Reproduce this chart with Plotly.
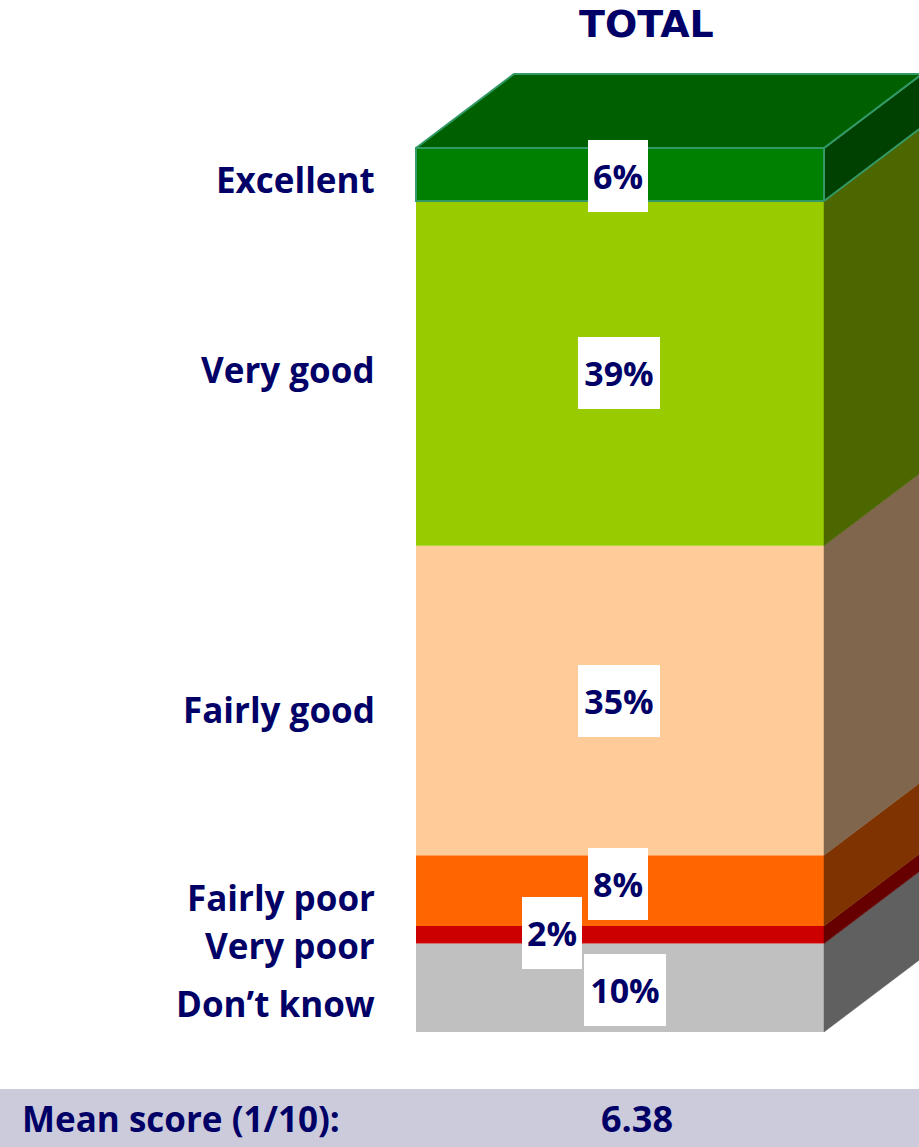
import plotly.graph_objects as go

# ---- data -------------------------------------------------------------
categories = ["Don\u2019t know", "Very poor", "Fairly poor", "Fairly good", "Very good", "Excellent"]
values = [10, 2, 8, 35, 39, 6]
column_title = "TOTAL"
mean_label = "Mean score (1/10):"
mean_score = 6.38

# ---- styling ----------------------------------------------------------
W, H = 919, 1147
NAVY = "#000066"
FONT = "Open Sans"
face_colors = ["#C0C0C0", "#CC0000", "#FF6600", "#FFCC99", "#99CC00", "#008000"]
outline_colors = [None, None, None, None, None, "#339966"]

# category label vertical positions (axis units) and value-box nudges (px)
label_y = [3.2, 9.8, 15.2, 36.5, 74.9, 96.4]
value_shift_x = [5, -68, -2, -1, -1, -2]
value_shift_y = [-2, 2, 7, -1, 0, -1]

# 3D box geometry in axis units
BAR_W = 1.0
DEPTH_X = 0.24
DEPTH_Y = 8.37
X_RANGE = [-1.5196, 0.7328]
Y_RANGE = [-13.01, 116.74]


def shade(hex_color, factor):
    h = hex_color.lstrip("#")
    r, g, b = (int(h[i:i + 2], 16) for i in (0, 2, 4))
    return "#{:02X}{:02X}{:02X}".format(int(r * factor), int(g * factor), int(b * factor))


fig = go.Figure()

# cumulative bounds of each stacked segment
lows, highs = [], []
acc = 0
for v in values:
    lows.append(acc)
    acc += v
    highs.append(acc)

right = BAR_W / 2
left = -BAR_W / 2

# front faces
for name, v, lo, col, ol in zip(categories, values, lows, face_colors, outline_colors):
    fig.add_trace(go.Bar(
        x=[0], y=[v], base=[lo], width=BAR_W, name=name,
        marker=dict(color=col, line=dict(color=ol or col, width=2 if ol else 0)),
        hoverinfo="skip", showlegend=False,
    ))

# side faces
for name, lo, hi, col, ol in zip(categories, lows, highs, face_colors, outline_colors):
    fig.add_trace(go.Scatter(
        x=[right, right + DEPTH_X, right + DEPTH_X, right, right],
        y=[lo, lo + DEPTH_Y, hi + DEPTH_Y, hi, lo],
        mode="lines", fill="toself", fillcolor=shade(col, 0.5),
        line=dict(color=ol or shade(col, 0.5), width=2 if ol else 0.5),
        hoverinfo="skip", showlegend=False,
    ))

# top face
top = highs[-1]
fig.add_trace(go.Scatter(
    x=[left, right, right + DEPTH_X, left + DEPTH_X, left],
    y=[top, top, top + DEPTH_Y, top + DEPTH_Y, top],
    mode="lines", fill="toself", fillcolor=shade(face_colors[-1], 0.75),
    line=dict(color=outline_colors[-1], width=2),
    hoverinfo="skip", showlegend=False,
))

annotations = []

# value boxes
for v, lo, dx, dy in zip(values, lows, value_shift_x, value_shift_y):
    txt = f"{v}%"
    annotations.append(dict(
        x=0, y=lo + v / 2, xref="x", yref="y", text=f"<b>{txt}</b>",
        showarrow=False, bgcolor="white", borderpad=0, borderwidth=0,
        width=16 + 22 * len(txt), height=72, xshift=dx, yshift=dy,
        font=dict(family=FONT, size=34, color=NAVY),
    ))

# category labels
for name, y in zip(categories, label_y):
    annotations.append(dict(
        x=377 / W, y=y, xref="paper", yref="y", text=f"<b>{name}</b>",
        xanchor="right", yanchor="middle", showarrow=False,
        font=dict(family=FONT, size=35, color=NAVY),
    ))

# column header
annotations.append(dict(
    x=646.5 / W, y=1, xref="paper", yref="paper", text=f"<b>{column_title}</b>",
    xanchor="center", yanchor="top", showarrow=False,
    font=dict(family="DejaVu Sans", size=38, color=NAVY),
))

# mean score row
annotations.append(dict(
    x=20 / W, y=1 - 1118 / H, xref="paper", yref="paper", text=f"<b>{mean_label}</b>",
    xanchor="left", yanchor="middle", showarrow=False,
    font=dict(family=FONT, size=35, color=NAVY),
))
annotations.append(dict(
    x=637 / W, y=1 - 1118 / H, xref="paper", yref="paper", text=f"<b>{mean_score:.2f}</b>",
    xanchor="center", yanchor="middle", showarrow=False,
    font=dict(family=FONT, size=36, color=NAVY),
))

shapes = [dict(
    type="rect", xref="paper", yref="paper", x0=0, x1=1, y0=0, y1=1 - 1089 / H,
    fillcolor="#CBCBDB", line=dict(width=0), layer="below",
)]

fig.update_layout(
    width=W, height=H, margin=dict(l=0, r=0, t=0, b=0, pad=0),
    paper_bgcolor="white", plot_bgcolor="white",
    barmode="overlay", showlegend=False,
    xaxis=dict(range=X_RANGE, visible=False, fixedrange=True),
    yaxis=dict(range=Y_RANGE, visible=False, fixedrange=True),
    annotations=annotations, shapes=shapes,
)

fig.write_html("out.html")
